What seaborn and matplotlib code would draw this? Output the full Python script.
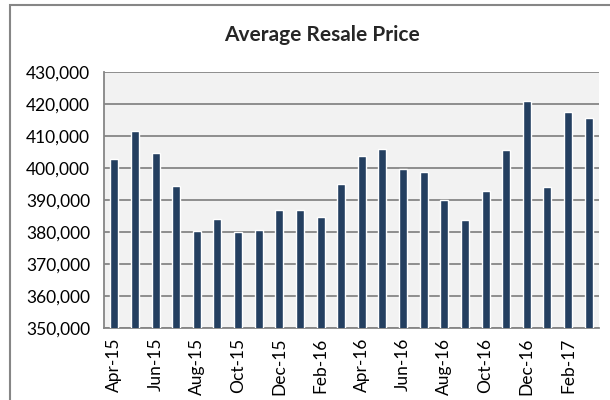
import pandas as pd
import matplotlib.pyplot as plt
import matplotlib.ticker as mticker
from matplotlib.patches import Rectangle
import seaborn as sns

# Monthly average resale price, Apr-15 to Mar-17
months = ['Apr-15', 'May-15', 'Jun-15', 'Jul-15', 'Aug-15', 'Sep-15',
          'Oct-15', 'Nov-15', 'Dec-15', 'Jan-16', 'Feb-16', 'Mar-16',
          'Apr-16', 'May-16', 'Jun-16', 'Jul-16', 'Aug-16', 'Sep-16',
          'Oct-16', 'Nov-16', 'Dec-16', 'Jan-17', 'Feb-17', 'Mar-17']
prices = [402900, 411550, 404700, 394400, 380200, 384150,
          379900, 380500, 387000, 387000, 384800, 395000,
          403750, 406050, 399600, 398650, 389900, 383850,
          392700, 405500, 420950, 394050, 417500, 415500]
y_ticks = [350000, 360000, 370000, 380000, 390000, 400000, 410000, 420000, 430000]

data = pd.DataFrame({'month': months, 'price': prices})

sns.set_style('white')
plt.rcParams['font.family'] = ['Lato', 'DejaVu Sans']

fig = plt.figure(figsize=(6.1, 4.0), dpi=100)
ax = fig.add_axes([0.1705, 0.18, 0.8115, 0.64])
ax.set_facecolor('#F2F2F2')

sns.barplot(data=data, x='month', y='price', color='#243F60', width=0.39,
            saturation=1, ax=ax, zorder=3)

grid_col = '#868686'
ax.set_ylim(350000, 430000)
ax.set_yticks(y_ticks)
ax.yaxis.set_major_formatter(mticker.FuncFormatter(lambda v, p: f'{int(v):,}'))
ax.yaxis.grid(True, color=grid_col, linewidth=1.3, zorder=1)
ax.set_axisbelow(True)

# x ticks sit between every second pair of months, labels on every second month
ax.set_xlim(-0.5, len(months) - 0.5)
ax.set_xticks([i - 0.5 for i in range(0, len(months) + 1, 2)])
ax.set_xticklabels([])
ax.set_xticks(list(range(0, len(months), 2)), minor=True)
ax.set_xticklabels(months[::2], minor=True, rotation=90)
ax.tick_params(axis='x', which='major', length=5, width=1, color=grid_col, direction='out')
ax.tick_params(axis='x', which='minor', length=0, pad=7, labelsize=12.5, labelcolor='black')
ax.tick_params(axis='y', length=6, width=1, color=grid_col, direction='out',
               pad=4, labelsize=12.5, labelcolor='black')
ax.set_xlabel('')
ax.set_ylabel('')

for side in ['top', 'right']:
    ax.spines[side].set_visible(False)
for side in ['left', 'bottom']:
    ax.spines[side].set_color(grid_col)
    ax.spines[side].set_linewidth(1.3)

# title is centred on the whole chart box, not on the plot area
fig.text(322 / 610, 1 - 41 / 400, 'Average Resale Price', fontsize=15,
         fontweight='bold', ha='center', va='baseline')

# chart border, cut off at the right and bottom like the screenshot
fig.patches.append(Rectangle((10 / 610, -0.1), 1.0, 1.1 - 5 / 400,
                             transform=fig.transFigure, fill=False,
                             edgecolor=grid_col, linewidth=1.5))

plt.savefig('out.png', dpi=100)
